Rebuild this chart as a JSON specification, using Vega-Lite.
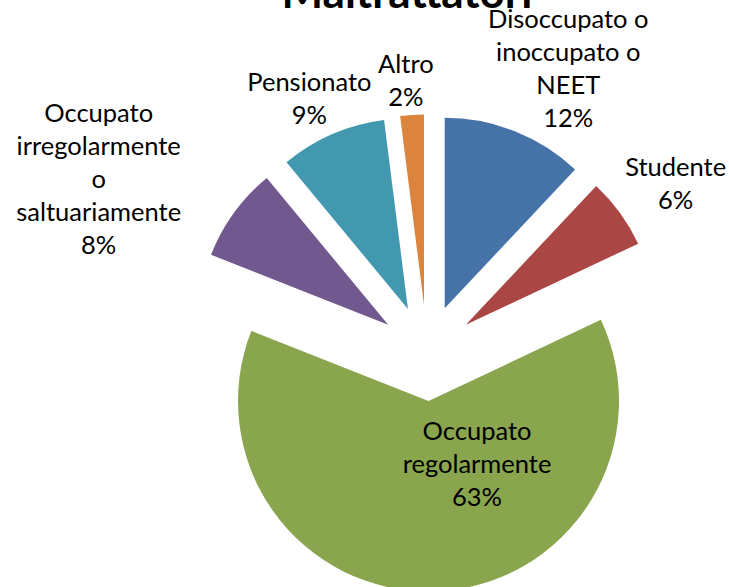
{
  "$schema": "https://vega.github.io/schema/vega-lite/v6.json",
  "autosize": {"type": "none"},
  "width": 602,
  "height": 468,
  "padding": {"left": 126, "top": 119, "right": 1, "bottom": 0},
  "background": "white",
  "view": {"stroke": null},
  "title": {
    "text": "Maltrattatori",
    "font": "Lato",
    "fontSize": 44,
    "fontWeight": "bold",
    "color": "black",
    "frame": "group",
    "anchor": "middle",
    "baseline": "alphabetic",
    "offset": -44,
    "dx": -20
  },
  "data": {
    "values": [
      {"ordine": 1, "categoria": "Disoccupato o inoccupato o NEET", "valore": 12, "etichetta": "Disoccupato o\ninoccupato o\nNEET\n12%"},
      {"ordine": 2, "categoria": "Studente", "valore": 6, "etichetta": "Studente\n6%"},
      {"ordine": 3, "categoria": "Occupato regolarmente", "valore": 63, "etichetta": "Occupato\nregolarmente\n63%"},
      {"ordine": 4, "categoria": "Occupato irregolarmente o saltuariamente", "valore": 8, "etichetta": "Occupato\nirregolarmente\no\nsaltuariamente\n8%"},
      {"ordine": 5, "categoria": "Pensionato", "valore": 9, "etichetta": "Pensionato\n9%"},
      {"ordine": 6, "categoria": "Altro", "valore": 2, "etichetta": "Altro\n2%"}
    ]
  },
  "encoding": {
    "theta": {"field": "valore", "type": "quantitative", "stack": true},
    "order": {"field": "ordine", "type": "quantitative"}
  },
  "layer": [
    {
      "mark": {
        "type": "arc",
        "radius": 190.5,
        "x": {"expr": "width/2 + 48*sin(scale('theta', (datum.valore_start + datum.valore_end)/2))"},
        "y": {"expr": "height/2 - 48*cos(scale('theta', (datum.valore_start + datum.valore_end)/2))"}
      },
      "encoding": {
        "color": {
          "field": "categoria",
          "type": "nominal",
          "legend": null,
          "scale": {
            "domain": ["Disoccupato o inoccupato o NEET", "Studente", "Occupato regolarmente", "Occupato irregolarmente o saltuariamente", "Pensionato", "Altro"],
            "range": ["#4572A7", "#AA4643", "#89A54E", "#71588F", "#4198AF", "#DB843D"]
          }
        }
      }
    },
    {
      "mark": {
        "type": "text",
        "font": "Lato",
        "fontSize": 25.5,
        "lineHeight": 33,
        "lineBreak": "\n",
        "align": "center",
        "baseline": "middle",
        "color": "black",
        "radius": {"expr": "[305, 295, 112.5, 370, 276, 272][datum.ordine - 1]"},
        "dx": {"expr": "[29, 10, 46.5, -29, -8, -4][datum.ordine - 1]"},
        "dy": {"expr": "[-49.5, -11.5, -33, -22, -16.5, -16.5][datum.ordine - 1]"}
      },
      "encoding": {
        "text": {"field": "etichetta", "type": "nominal"}
      }
    }
  ]
}
